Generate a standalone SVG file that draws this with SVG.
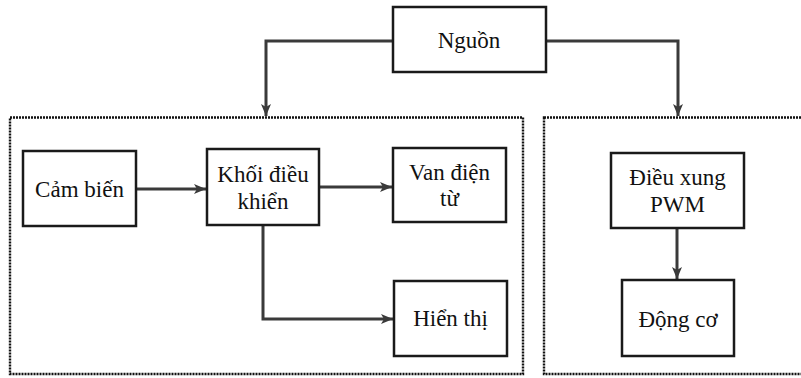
<svg xmlns="http://www.w3.org/2000/svg" width="801" height="378" viewBox="0 0 801 378">
  <style>
    .box { fill: #ffffff; stroke: #1a1a1a; stroke-width: 2.5; }
    .group { fill: none; stroke: #111111; stroke-width: 2.4; stroke-dasharray: 2 1; }
    .conn { fill: none; stroke: #3a3a3a; stroke-width: 3; marker-end: url(#arrow); }
    .lbl { font-family: "Liberation Serif", "Times New Roman", serif; font-size: 23px; fill: #111111; text-anchor: middle; }
  </style>
  <defs>
    <marker id="arrow" markerUnits="userSpaceOnUse" markerWidth="13" markerHeight="13" refX="12" refY="6.5" orient="auto">
      <path d="M0,1.5 L12,6.5 L0,11.5 L3,6.5 z" fill="#3a3a3a"/>
    </marker>
  </defs>
  <rect width="801" height="378" fill="#ffffff"/>

  <g id="group-left">
    <rect class="group" x="10" y="117.5" width="513" height="256.5"/>
  </g>
  <g id="group-right">
    <rect class="group" x="544" y="117.5" width="262" height="256.5"/>
  </g>

  <g id="connectors">
    <polyline class="conn" points="393,41 266,41 266,116"/>
    <polyline class="conn" points="546,41 678,41 678,116"/>
    <line class="conn" x1="136" y1="189" x2="206" y2="189"/>
    <line class="conn" x1="319" y1="187" x2="392" y2="187"/>
    <polyline class="conn" points="263,225 263,319 393,319"/>
    <line class="conn" x1="677" y1="228" x2="677" y2="279"/>
  </g>

  <g id="nguon">
    <rect class="box" x="393" y="7" width="153" height="65"/>
    <text class="lbl" x="469" y="48">Nguồn</text>
  </g>
  <g id="cam-bien">
    <rect class="box" x="23" y="151" width="113" height="75"/>
    <text class="lbl" x="79.5" y="197">Cảm biến</text>
  </g>
  <g id="khoi-dieu-khien">
    <rect class="box" x="207" y="149" width="112" height="76"/>
    <text class="lbl" x="263" y="182">Khối điều</text>
    <text class="lbl" x="263" y="209">khiển</text>
  </g>
  <g id="van-dien-tu">
    <rect class="box" x="393" y="148" width="113" height="74"/>
    <text class="lbl" x="449.5" y="180">Van điện</text>
    <text class="lbl" x="449.5" y="206">từ</text>
  </g>
  <g id="hien-thi">
    <rect class="box" x="394" y="281" width="113" height="75"/>
    <text class="lbl" x="450.5" y="326">Hiển thị</text>
  </g>
  <g id="dieu-xung-pwm">
    <rect class="box" x="611" y="153" width="133" height="75"/>
    <text class="lbl" x="677.5" y="185">Điều xung</text>
    <text class="lbl" x="677.5" y="212">PWM</text>
  </g>
  <g id="dong-co">
    <rect class="box" x="622" y="280" width="112" height="76"/>
    <text class="lbl" x="678" y="327">Động cơ</text>
  </g>
</svg>
